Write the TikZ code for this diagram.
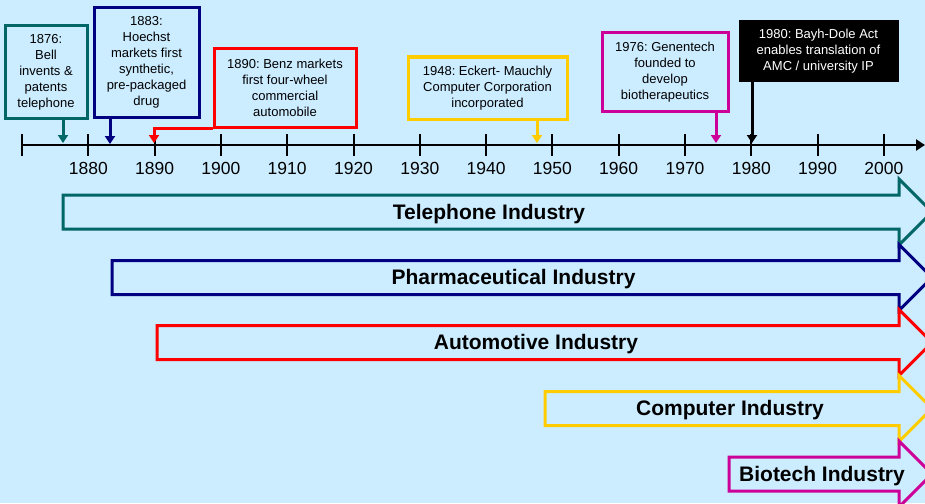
\documentclass[tikz,border=0pt]{standalone}
\usepackage{fontspec}
\setmainfont{Liberation Sans}
\usepackage{tikz}
\usetikzlibrary{calc}
\usetikzlibrary{arrows.meta}
\frenchspacing
\definecolor{bgblue}{HTML}{CCECFF}
\definecolor{telecol}{HTML}{006666}
\definecolor{pharmacol}{HTML}{000080}
\definecolor{compcol}{HTML}{FFCC00}
\definecolor{biocol}{HTML}{CC0099}
\tikzstyle{eventbox} = [draw, line width=3pt, fill=bgblue, align=center, inner sep=2pt, font=\fontsize{13}{16}\selectfont]
\tikzstyle{evarrow} = [line width=3pt, -{Triangle[width=10pt,length=8pt]}]
\tikzstyle{yearlabel} = [font=\fontsize{17.5}{20}\selectfont]
\tikzstyle{industryarrow} = [line width=3pt, fill=bgblue]
\tikzstyle{industrylabel} = [anchor=base, font=\bfseries\fontsize{21}{24}\selectfont]

\begin{document}
\begin{tikzpicture}[x=1pt, y=-1pt]
\useasboundingbox (0,0) rectangle (925,503);
\clip (0,0) rectangle (925,503);
\fill[bgblue] (0,0) rectangle (925,503);

\coordinate (axisL) at (22,145);
\coordinate (axisR) at (925,145);
\draw[line width=2.5pt, -{Triangle[width=11pt,length=9pt]}] (axisL) -- (axisR);
\foreach \yr in {1870,1880,...,2000}{
    \draw[line width=2pt] ({22+(\yr-1870)*6.63},134) -- ({22+(\yr-1870)*6.63},156);
}
\foreach \yr in {1880,1890,...,2000}{
    \node[yearlabel] (lbl\yr) at ({22+(\yr-1870)*6.63},168) {\yr};
}

\coordinate (a1876) at (63,143);
\coordinate (a1883) at (110,144);
\coordinate (a1890) at (154,143);
\coordinate (a1948) at (537,143);
\coordinate (a1976) at (716,143);
\coordinate (a1980) at (752,143);

\node[eventbox, draw=telecol, minimum width=82pt, minimum height=92pt] (bell) at (46,72) {1876:\\Bell\\invents \&\\patents\\telephone};
\node[eventbox, draw=pharmacol, minimum width=105pt, minimum height=109pt] (hoechst) at (146.5,62.5) {1883:\\Hoechst\\markets first\\synthetic,\\pre-packaged\\drug};
\node[eventbox, draw=red, minimum width=142pt, minimum height=78pt] (benz) at (285,88) {1890: Benz markets\\first four-wheel\\commercial\\automobile};
\node[eventbox, draw=compcol, minimum width=159pt, minimum height=62pt] (eckert) at (487.5,88) {1948: Eckert- Mauchly\\Computer Corporation\\incorporated};
\node[eventbox, draw=biocol, minimum width=126pt, minimum height=78pt] (genentech) at (665,72) {1976: Genentech\\founded to\\develop\\biotherapeutics};
\node[eventbox, draw=black, fill=black, text=white, minimum width=157pt, minimum height=58pt] (bayhdole) at (818.5,51) {1980: Bayh-Dole Act\\enables translation of\\AMC / university IP};

\draw[evarrow, telecol] (bell.south -| a1876) -- (a1876);
\draw[evarrow, pharmacol] (hoechst.south -| a1883) -- (a1883);
\draw[evarrow, red] (benz.south west) -| (a1890);
\draw[evarrow, compcol] (eckert.south -| a1948) -- (a1948);
\draw[evarrow, biocol] (genentech.south -| a1976) -- (a1976);
\draw[evarrow, black] (bayhdole.south -| a1980) -- (a1980);

\foreach \lx/\cy/\col/\lbl in {63/212/telecol/Telephone Industry, 112/277.5/pharmacol/Pharmaceutical Industry, 157/342.5/red/Automotive Industry, 545/408.5/compcol/Computer Industry, 729/474/biocol/Biotech Industry}{
    \draw[industryarrow, draw=\col] (\lx,\cy-17) -- (899,\cy-17) -- (899,\cy-33) -- (932,\cy) -- (899,\cy+33) -- (899,\cy+17) -- (\lx,\cy+17) -- cycle;
    \node[industrylabel] (ind\lx) at ({(\lx+899)/2+8},\cy+7) {\lbl};
}
\end{tikzpicture}
\end{document}
